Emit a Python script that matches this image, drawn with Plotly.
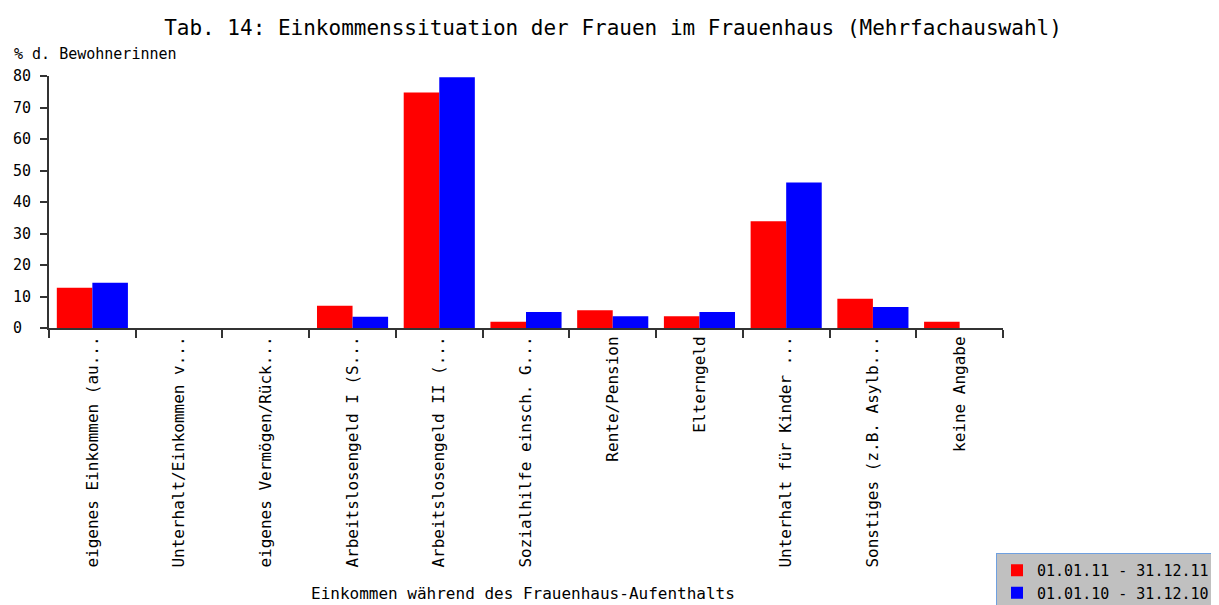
import plotly.graph_objects as go

categories = [
    "eigenes Einkommen (au...",
    "Unterhalt/Einkommen v...",
    "eigenes Vermögen/Rück...",
    "Arbeitslosengeld I (S...",
    "Arbeitslosengeld II (...",
    "Sozialhilfe einsch. G...",
    "Rente/Pension",
    "Elterngeld",
    "Unterhalt für Kinder ...",
    "Sonstiges (z.B. Asylb...",
    "keine Angabe",
]
values_2011 = [12.8, 0, 0, 7.1, 74.8, 2.0, 5.6, 3.7, 33.9, 9.3, 2.0]
values_2010 = [14.4, 0, 0, 3.6, 79.6, 5.1, 3.7, 5.1, 46.2, 6.7, 0]
series_names = ["01.01.11 - 31.12.11", "01.01.10 - 31.12.10"]
y_ticks = [0, 10, 20, 30, 40, 50, 60, 70, 80]

MONO = "DejaVu Sans Mono"
# the page body adds an 8px margin, so the figure is drawn 8px smaller
W, H = 1211, 597

fig = go.Figure()
fig.add_trace(go.Bar(x=categories, y=values_2011, name=series_names[0],
                     marker=dict(color="#ff0000", line=dict(width=0))))
fig.add_trace(go.Bar(x=categories, y=values_2010, name=series_names[1],
                     marker=dict(color="#0000ff", line=dict(width=0))))

# monospace labels, padded so they look left aligned like the original
tick_text = [f"{v:<2}".replace(" ", "\u00a0") for v in y_ticks]

fig.update_layout(
    width=W, height=H,
    margin=dict(l=41, r=216, t=68, b=277, autoexpand=False),
    paper_bgcolor="white", plot_bgcolor="white",
    font=dict(family=MONO, size=16, color="#000000"),
    barmode="group", bargap=0.18, bargroupgap=0,
    title=dict(
        text="Tab. 14: Einkommenssituation der Frauen im Frauenhaus (Mehrfachauswahl)",
        x=605 / W, xanchor="center", y=1 - 20 / H, yanchor="middle",
        font=dict(family=MONO, size=21),
    ),
    legend=dict(
        x=(996 - 49) / 954, xanchor="left", y=(328 - 610) / 252, yanchor="bottom",
        bgcolor="#c0c0c0", bordercolor="#6fa0e0", borderwidth=1,
        font=dict(family=MONO, size=15), itemwidth=30,
        tracegroupgap=0,
    ),
    showlegend=True,
)

fig.update_xaxes(
    type="category", tickson="boundaries", tickangle=-90,
    showline=True, linecolor="#333333", linewidth=2,
    ticks="outside", ticklen=8, tickwidth=2, tickcolor="#333333",
    showgrid=False, zeroline=False, automargin=False,
    tickfont=dict(family=MONO, size=16),
)
fig.update_yaxes(
    range=[0, 80], tickvals=y_ticks, ticktext=tick_text,
    showline=True, linecolor="#333333", linewidth=2,
    ticks="outside", ticklen=7, tickwidth=2, tickcolor="#333333",
    ticklabelstandoff=6,
    showgrid=False, zeroline=False, automargin=False,
    tickfont=dict(family=MONO, size=15),
)

fig.add_annotation(text="% d. Bewohnerinnen", xref="paper", yref="paper",
                   x=(12 - 49) / 954, xanchor="left", y=(328 - 54) / 252, yanchor="middle",
                   showarrow=False, font=dict(family=MONO, size=15))
fig.add_annotation(text="Einkommen während des Frauenhaus-Aufenthalts",
                   xref="paper", yref="paper",
                   x=(523 - 49) / 954, xanchor="center", y=(328 - 593) / 252, yanchor="middle",
                   showarrow=False, font=dict(family=MONO, size=16))

fig.write_html("out.html")
